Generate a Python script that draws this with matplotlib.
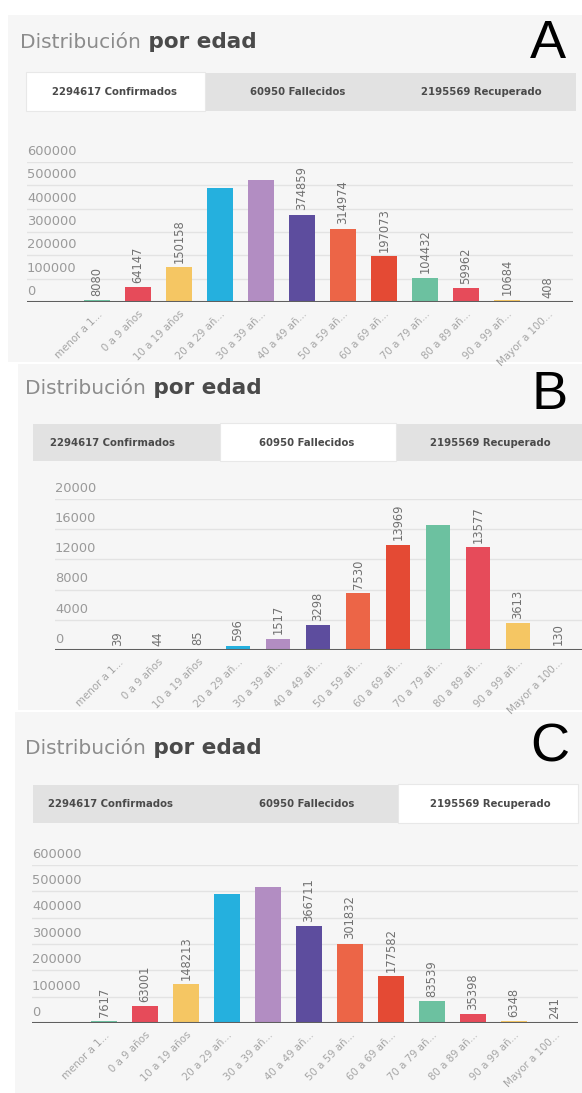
import matplotlib
matplotlib.use("Agg")
import matplotlib.pyplot as plt
from matplotlib.patches import Rectangle
import matplotlib.transforms as mtrans
import numpy as np

W, H = 582, 1093
DPI = 100

categories = ["menor a 1...", "0 a 9 años", "10 a 19 años", "20 a 29 añ...",
              "30 a 39 añ...", "40 a 49 añ...", "50 a 59 añ...", "60 a 69 añ...",
              "70 a 79 añ...", "80 a 89 añ...", "90 a 99 añ...", "Mayor a 100..."]
tab_labels = ["2294617 Confirmados", "60950 Fallecidos", "2195569 Recuperado"]

confirmados = [8080, 64147, 150158, 489000, 520840, 374859, 314974, 197073,
               104432, 59962, 10684, 408]
fallecidos = [39, 44, 85, 596, 1517, 3298, 7530, 13969, 16552, 13577, 3613, 130]
recuperados = [7617, 63001, 148213, 489000, 516087, 366711, 301832, 177582,
               83539, 35398, 6348, 241]

# bar value labels that are not shown in the original
hidden_conf = [3, 4]
hidden_fall = [8]
hidden_rec = [3, 4]

ticks_big = [0, 100000, 200000, 300000, 400000, 500000, 600000]
ticks_small = [0, 4000, 8000, 12000, 16000, 20000]

palette = ["#6cc1a0", "#e64b5a", "#f5c663", "#25b0de",
           "#b28dc2", "#5d4d9e", "#ec6547", "#e44a34"]

panels = [
    dict(letter="A", values=confirmados, hidden=hidden_conf, ticks=ticks_big,
         rect=(8, 15, 582, 362), title=(20, 42), letter_pos=(548, 44),
         tabs_y=(73, 111), tabs_x=(26, 576), active=0, active_x=(26, 205),
         tab_cx=(115, 298, 481),
         chart=dict(left=27, right=573, y0=302, ytop=162), xlim=(-1.71, 11.61)),
    dict(letter="B", values=fallecidos, hidden=hidden_fall, ticks=ticks_small,
         rect=(18, 364, 582, 710), title=(25, 388), letter_pos=(550, 395),
         tabs_y=(424, 461), tabs_x=(33, 582), active=1, active_x=(220, 396),
         tab_cx=(113, 307, 490),
         chart=dict(left=55, right=582, y0=650, ytop=499), xlim=(-1.575, 11.6)),
    dict(letter="C", values=recuperados, hidden=hidden_rec, ticks=ticks_big,
         rect=(15, 712, 582, 1093), title=(25, 748), letter_pos=(550, 748),
         tabs_y=(785, 823), tabs_x=(33, 578), active=2, active_x=(398, 578),
         tab_cx=(110, 307, 490),
         chart=dict(left=32, right=578, y0=1023, ytop=865), xlim=(-1.756, 11.56)),
]

fig = plt.figure(figsize=(W / DPI, H / DPI), dpi=DPI)
fig.patch.set_facecolor("white")

bg = fig.add_axes([0, 0, 1, 1])
bg.set_xlim(0, W)
bg.set_ylim(H, 0)
bg.axis("off")
bg.set_zorder(0)

for p in panels:
    x0, y0, x1, y1 = p["rect"]
    bg.add_patch(Rectangle((x0, y0), x1 - x0, y1 - y0, facecolor="#f6f6f6",
                           edgecolor="none", zorder=0))
    # title
    tx, ty = p["title"]
    t1 = bg.text(tx, ty, "Distribución", fontsize=14.5, color="#8c8c8c",
                 va="center", ha="left", family="DejaVu Sans", zorder=2)
    bg.annotate(" por edad", xy=(1, 0), xycoords=t1, va="bottom", ha="left",
                fontsize=15.5, fontweight="bold", color="#4a4a4a",
                family="DejaVu Sans", zorder=2)
    # panel letter
    lx, ly = p["letter_pos"]
    bg.text(lx, ly, p["letter"], fontsize=39, color="black", ha="center",
            va="center", family="Liberation Sans", zorder=2)
    # tabs
    ty0, ty1 = p["tabs_y"]
    tx0, tx1 = p["tabs_x"]
    bg.add_patch(Rectangle((tx0, ty0), tx1 - tx0, ty1 - ty0, facecolor="#e2e2e2",
                           edgecolor="none", zorder=1))
    ax0, ax1 = p["active_x"]
    bg.add_patch(Rectangle((ax0, ty0 - 1), ax1 - ax0, ty1 - ty0 + 1,
                           facecolor="white", edgecolor="#e8e8e8", lw=0.8, zorder=1.5))
    for i, lab in enumerate(tab_labels):
        bg.text(p["tab_cx"][i], (ty0 + ty1) / 2, lab, fontsize=7.3,
                fontweight="bold", color="#4a4a4a", ha="center", va="center",
                family="DejaVu Sans", zorder=3)

    # chart
    c = p["chart"]
    ax = fig.add_axes([c["left"] / W, (H - c["y0"]) / H,
                       (c["right"] - c["left"]) / W, (c["y0"] - c["ytop"]) / H])
    ax.set_facecolor("none")
    ax.set_zorder(1)
    xs = np.arange(len(categories))
    vals = p["values"]
    colors = [palette[i % len(palette)] for i in range(len(categories))]
    ax.bar(xs, vals, width=0.62, color=colors, zorder=2)
    ticks = p["ticks"]
    ax.set_ylim(0, ticks[-1])
    ax.set_xlim(*p["xlim"])
    for t in ticks[1:]:
        ax.axhline(t, color="#e3e3e3", lw=1.0, zorder=1)
    ax.axhline(0, color="#5f5f5f", lw=2.2, zorder=3)
    for s in ax.spines.values():
        s.set_visible(False)
    ax.set_yticks([])
    trans = mtrans.offset_copy(ax.get_yaxis_transform(), fig=fig, x=0, y=3,
                               units="points")
    for t in ticks:
        ax.text(0.0, t, str(t), transform=trans, ha="left", va="bottom",
                fontsize=9.4, color="#9a9a9a", family="DejaVu Sans")
    ax.set_xticks(xs)
    ax.set_xticklabels(categories, rotation=45, ha="right",
                       rotation_mode="anchor", fontsize=7.4, color="#a5a5a5",
                       family="DejaVu Sans")
    ax.tick_params(axis="x", length=0, pad=5)
    vtrans = mtrans.offset_copy(ax.transData, fig=fig, x=0, y=3, units="points")
    for i, v in enumerate(vals):
        if i in p["hidden"]:
            continue
        ax.text(xs[i], v, str(v), transform=vtrans, rotation=90, ha="center",
                va="bottom", fontsize=8.3, color="#707070", family="DejaVu Sans",
                zorder=4)

fig.savefig("out.png", dpi=DPI, facecolor="white")
